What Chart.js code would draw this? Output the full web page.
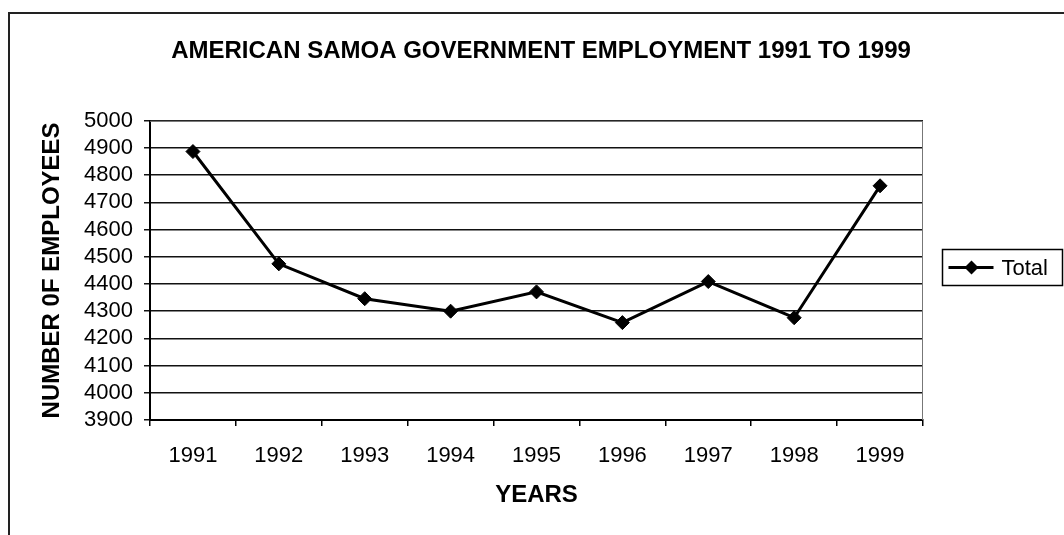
<!DOCTYPE html>
<html lang="en">
<head>
    <meta charset="UTF-8">
    <title>American Samoa Government Employment 1991 to 1999</title>
    <script src="https://cdn.jsdelivr.net/npm/chart.js"></script>
    <style>
        body {
            margin: 0;
            background-color: #ffffff;
            overflow: hidden;
        }

        .chart-wrap {
            position: relative;
            width: 1064px;
            height: 535px;
        }

        .frame {
            position: absolute;
            left: 8px;
            top: 12px;
            width: 1100px;
            height: 600px;
            border: 2px solid #222;
            pointer-events: none;
        }
    </style>
</head>
<body>

<div class="chart-wrap">
    <canvas id="empChart" width="1064" height="535"></canvas>
    <div class="frame"></div>
</div>

<script>
    // data
    const years = ['1991', '1992', '1993', '1994', '1995', '1996', '1997', '1998', '1999'];
    const totalEmployees = [4887, 4474, 4346, 4300, 4371, 4258, 4409, 4276, 4761];
    const yMin = 3900;
    const yMax = 5000;
    const yStep = 100;

    const fontFamily = 'Arial, "Liberation Sans", sans-serif';

    // plot area outline + boxed legend like the excel one
    const plotFrame = {
        id: 'plotFrame',
        beforeDatasetsDraw(chart) {
            const { ctx, chartArea } = chart;
            ctx.save();
            ctx.strokeStyle = '#777';
            ctx.lineWidth = 1;
            ctx.beginPath();
            ctx.moveTo(chartArea.left, chartArea.top + 0.5);
            ctx.lineTo(chartArea.right - 0.5, chartArea.top + 0.5);
            ctx.lineTo(chartArea.right - 0.5, chartArea.bottom);
            ctx.stroke();
            ctx.restore();
        },
        afterDraw(chart) {
            const { ctx, chartArea } = chart;
            const ds = chart.data.datasets[0];
            const bx = chartArea.right + 19.5;
            const by = 249.5;
            const bw = 120;
            const bh = 36;
            const cy = by + bh / 2;

            ctx.save();
            ctx.strokeStyle = '#000';
            ctx.lineWidth = 1.5;
            ctx.strokeRect(bx, by, bw, bh);

            ctx.lineWidth = 3;
            ctx.beginPath();
            ctx.moveTo(bx + 6, cy);
            ctx.lineTo(bx + 51, cy);
            ctx.stroke();

            ctx.fillStyle = '#000';
            ctx.beginPath();
            ctx.moveTo(bx + 29, cy - 7);
            ctx.lineTo(bx + 36, cy);
            ctx.lineTo(bx + 29, cy + 7);
            ctx.lineTo(bx + 22, cy);
            ctx.closePath();
            ctx.fill();

            ctx.font = '22px ' + fontFamily;
            ctx.textAlign = 'left';
            ctx.textBaseline = 'middle';
            ctx.fillText(ds.label, bx + 59, cy + 1);
            ctx.restore();
        }
    };

    const ctx = document.getElementById('empChart').getContext('2d');

    new Chart(ctx, {
        type: 'line',
        data: {
            labels: years,
            datasets: [{
                label: 'Total',
                data: totalEmployees,
                borderColor: '#000',
                backgroundColor: '#000',
                borderWidth: 3,
                tension: 0,
                pointStyle: 'rectRot',
                pointRadius: 7,
                pointHoverRadius: 7,
                pointBackgroundColor: '#000',
                pointBorderColor: '#000',
                pointBorderWidth: 1
            }]
        },
        options: {
            responsive: false,
            animation: false,
            layout: {
                padding: { left: 18, right: 0, top: 0, bottom: 0 }
            },
            plugins: {
                legend: { display: false },
                tooltip: { enabled: false },
                title: {
                    display: true,
                    text: 'AMERICAN SAMOA GOVERNMENT EMPLOYMENT 1991 TO 1999',
                    color: '#000',
                    font: { family: fontFamily, size: 24, weight: 'bold' },
                    padding: { top: 37, bottom: 55 }
                }
            },
            scales: {
                x: {
                    offset: true,
                    afterFit(scale) { scale.height = 115; },
                    grid: {
                        offset: true,
                        drawOnChartArea: false,
                        drawTicks: true,
                        tickLength: 6,
                        color: '#000',
                        lineWidth: 1.5
                    },
                    border: { color: '#000', width: 2 },
                    ticks: {
                        color: '#000',
                        padding: 17,
                        maxRotation: 0,
                        autoSkip: false,
                        font: { family: fontFamily, size: 22 }
                    },
                    title: {
                        display: true,
                        text: 'YEARS',
                        color: '#000',
                        font: { family: fontFamily, size: 24, weight: 'bold' },
                        padding: { top: 0, bottom: 25 }
                    }
                },
                y: {
                    min: yMin,
                    max: yMax,
                    afterFit(scale) { scale.width = 132; },
                    grid: {
                        color: '#111',
                        lineWidth: 1.5,
                        tickLength: 6
                    },
                    border: { color: '#000', width: 2 },
                    ticks: {
                        stepSize: yStep,
                        autoSkip: false,
                        color: '#000',
                        padding: 11,
                        font: { family: fontFamily, size: 22 },
                        callback: (value) => String(value)
                    },
                    title: {
                        display: true,
                        text: 'NUMBER 0F EMPLOYEES',
                        color: '#000',
                        font: { family: fontFamily, size: 24, weight: 'bold' },
                        padding: { top: 20, bottom: 0 }
                    }
                },
                // empty right axis, only reserves room for the legend box
                yRight: {
                    position: 'right',
                    min: yMin,
                    max: yMax,
                    afterFit(scale) { scale.width = 141; },
                    grid: { drawOnChartArea: false, drawTicks: false },
                    border: { display: false },
                    ticks: { display: false }
                }
            }
        },
        plugins: [plotFrame]
    });
</script>
</body>
</html>
